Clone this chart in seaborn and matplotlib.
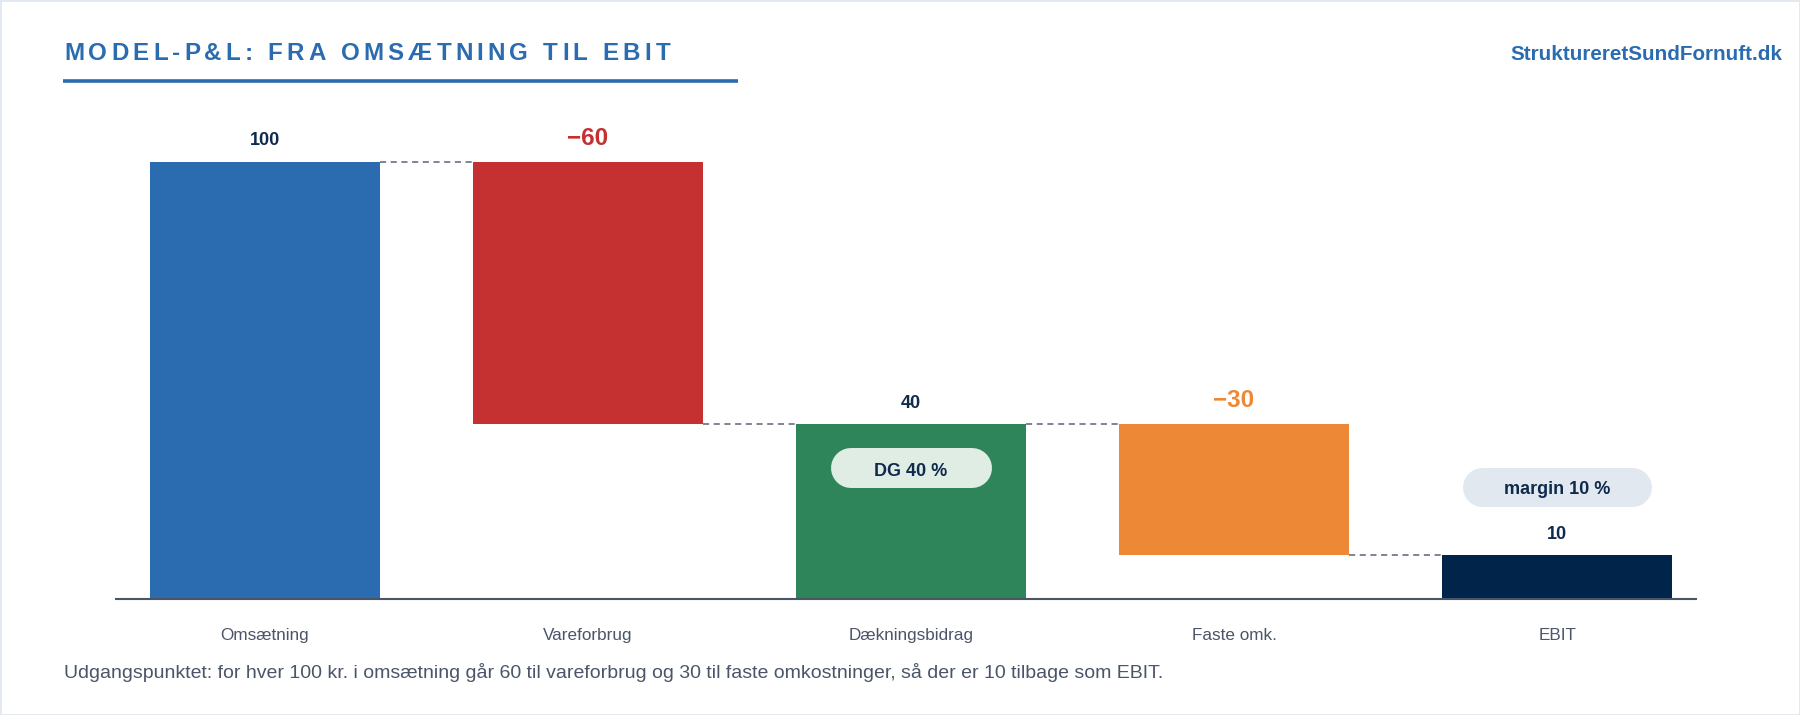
import numpy as np
import pandas as pd
import matplotlib
matplotlib.use('Agg')
import matplotlib.pyplot as plt
import matplotlib.transforms as mtransforms
from matplotlib.patches import Rectangle
from matplotlib.lines import Line2D
import seaborn as sns

# data
categories = ['Omsætning', 'Vareforbrug', 'Dækningsbidrag', 'Faste omk.', 'EBIT']
values = [100, -60, 40, -30, 10]
kinds = ['total', 'delta', 'total', 'delta', 'total']
bar_colors = ['#2b6cb0', '#c53030', '#2f855a', '#ed8936', '#01244b']

title = 'MODEL-P&L: FRA OMSÆTNING TIL EBIT'
site = 'StruktureretSundFornuft.dk'
note = ('Udgangspunktet: for hver 100 kr. i omsætning går 60 til vareforbrug og 30 '
        'til faste omkostninger, så der er 10 tilbage som EBIT.')
pill_texts = {2: 'DG 40 %', 4: 'margin 10 %'}

NAVY = '#102a4c'
BLUE = '#2b6cb0'
GREY = '#4a5568'

# waterfall geometry
bottoms, heights, tops = [], [], []
level = 0
for v, k in zip(values, kinds):
    if k == 'total':
        b, h = 0, v
        level = v
    else:
        b, h = min(level, level + v), abs(v)
        level = level + v
    bottoms.append(b)
    heights.append(h)
    tops.append(b + h)

df = pd.DataFrame({'cat': categories, 'height': heights, 'bottom': bottoms})

sns.set_style('white')
plt.rcParams['font.family'] = ['Liberation Sans', 'DejaVu Sans']

W, H = 1800, 715
fig = plt.figure(figsize=(18, 7.15), dpi=100)
fig.patch.set_facecolor('white')


def fx(px):
    return px / W


def fy(py):
    return 1 - py / H


s = 4.37
ax = fig.add_axes([fx(116), fy(599), fx(1696) - fx(116), 110 * s / H])
bw = 0.712
sns.barplot(data=df, x='cat', y='height', bottom=df['bottom'].values,
            color=bar_colors[0], width=bw, errorbar=None, ax=ax,
            order=categories, saturation=1)
for p, c in zip(ax.patches, bar_colors):
    p.set_facecolor(c)
    p.set_edgecolor('none')

ax.set_xlim(-0.461, 4.43)
ax.set_ylim(0, 110)
ax.set_xlabel('')
ax.set_ylabel('')
ax.set_yticks([])
sns.despine(ax=ax, left=True)
ax.spines['bottom'].set_color(GREY)
ax.spines['bottom'].set_linewidth(1.5)
ax.tick_params(axis='x', length=0, pad=21, labelsize=12.3, labelcolor=GREY)

# connectors
conn_levels = []
lvl = 0
for i, (v, k) in enumerate(zip(values, kinds)):
    lvl = v if k == 'total' else lvl + v
    conn_levels.append(lvl)
for i in range(len(categories) - 1):
    ax.plot([i + bw / 2, i + 1 - bw / 2], [conn_levels[i], conn_levels[i]],
            ls=(0, (4, 3)), color='#5a6478', lw=1.1)

# value labels
for i, (v, k) in enumerate(zip(values, kinds)):
    if k == 'total':
        txt, col, fs, off = f'{v}', NAVY, 13, 12
    else:
        txt, col, fs, off = f'\u2212{abs(v)}', bar_colors[i], 17.5, 12.5
    ax.annotate(txt, (i, tops[i]), xytext=(0, off), textcoords='offset points',
                ha='center', va='baseline', fontsize=fs, fontweight='bold',
                color=col, annotation_clip=False)

# pills (stadium shape via round-capped thick line), offsets in inches
pill_spec = {2: (-0.44, 1.61, 0.40, '#e0ede5', -0.517),
             4: (0.685, 1.89, 0.39, '#e2e8f0', 0.61)}
for i, (dy, pw, ph, fc, tb) in pill_spec.items():
    tr = fig.dpi_scale_trans + mtransforms.ScaledTranslation(i, tops[i], ax.transData)
    r_in = ph / 2
    ax.add_line(Line2D([-pw / 2 + r_in, pw / 2 - r_in], [dy, dy], transform=tr,
                       lw=ph * 72, color=fc, solid_capstyle='round',
                       clip_on=False, zorder=3))
    ax.text(0, tb, pill_texts[i], transform=tr, ha='center', va='baseline',
            fontsize=13, fontweight='bold', color=NAVY, zorder=4)

# title with letter spacing
r = fig.canvas.get_renderer()
tkw = dict(fontsize=17.4, fontweight='bold', color=BLUE)


def txt_w(st):
    t = fig.text(0, 0, st, **tkw)
    w = t.get_window_extent(r).width
    t.remove()
    return w


base = txt_w('HH')
widths = [txt_w('H' + ch + 'H') - base for ch in title]
gap = ((670 - 64) - sum(widths)) / (len(title) - 1)
x = 64
for ch, w in zip(title, widths):
    fig.text(fx(x), fy(60), ch, ha='left', va='baseline', **tkw)
    x += w + gap

fig.add_artist(Line2D([fx(63), fx(738)], [fy(81), fy(81)], color=BLUE, lw=2.6,
                      solid_capstyle='butt'))
fig.text(fx(1782), fy(60.5), site, ha='right', va='baseline', fontsize=14.9,
         fontweight='bold', color=BLUE)
fig.text(fx(64), fy(678), note, ha='left', va='baseline', fontsize=14, color=GREY)

fig.add_artist(Rectangle((0, 0), 1, 1, transform=fig.transFigure, fill=False,
                         edgecolor='#e2e8f0', lw=2))

fig.savefig('out.png', dpi=100, facecolor='white')
